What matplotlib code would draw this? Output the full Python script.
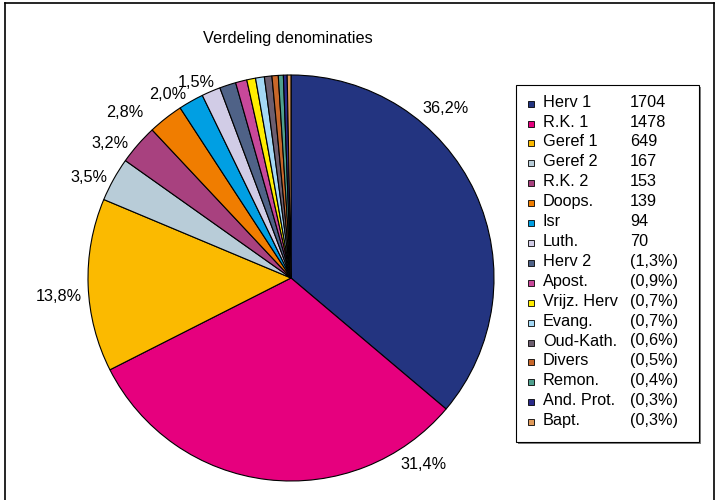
import matplotlib
matplotlib.use("Agg")
import matplotlib.pyplot as plt
from matplotlib.patches import Rectangle

plt.rcParams['font.family'] = ['Liberation Sans', 'DejaVu Sans']

title = "Verdeling denominaties"
names = ["Herv 1", "R.K. 1", "Geref 1", "Geref 2", "R.K. 2", "Doops.", "Isr", "Luth.",
         "Herv 2", "Apost.", "Vrijz. Herv", "Evang.", "Oud-Kath.", "Divers", "Remon.",
         "And. Prot.", "Bapt."]
legend_values = ["1704", "1478", "649", "167", "153", "139", "94", "70",
                 "(1,3%)", "(0,9%)", "(0,7%)", "(0,7%)", "(0,6%)", "(0,5%)", "(0,4%)",
                 "(0,3%)", "(0,3%)"]
percents = [36.2, 31.4, 13.8, 3.5, 3.2, 2.8, 2.0, 1.5, 1.3, 0.9, 0.7, 0.7, 0.6, 0.5, 0.4, 0.3, 0.3]
pie_labels = ["36,2%", "31,4%", "13,8%", "3,5%", "3,2%", "2,8%", "2,0%", "1,5%"]
colors = ["#233480", "#E6007E", "#FBBA00", "#B8CCD8", "#A8417F", "#F07D00", "#009FE3",
          "#D1CCE6", "#4F6287", "#C8489A", "#FFED00", "#A4D8F5", "#6C5E6F", "#C8672A",
          "#4FA08E", "#2A2A8A", "#E09A5A"]

W, H = 716, 500
FS = 11.7
fig = plt.figure(figsize=(W / 100, H / 100), dpi=100)

def fx(px):
    return px / W

def fy(py):
    return 1 - py / H

# outer frame
fig.add_artist(plt.Line2D([fx(4.5), fx(4.5)], [fy(3), fy(501)], color="black", lw=1.2))
fig.add_artist(plt.Line2D([fx(4.5), fx(713.5)], [fy(3), fy(3)], color="black", lw=1.2))
fig.add_artist(plt.Line2D([fx(713.5), fx(713.5)], [fy(3), fy(501)], color="black", lw=1.2))

# pie
cx, cy, r = 291, 278, 203
ax = fig.add_axes([fx(cx - r), fy(cy + r), 2 * r / W, 2 * r / H])
ax.pie(percents, colors=colors, startangle=90, counterclock=False,
       wedgeprops=dict(edgecolor="black", linewidth=0.8))
ax.set_xlim(-1, 1)
ax.set_ylim(-1, 1)
ax.axis("off")

# percent label positions (in units of pie radius)
label_pos = [(0.759, 0.842), (0.655, -0.911), (-1.143, -0.084), (-0.993, 0.502),
             (-0.892, 0.670), (-0.818, 0.823), (-0.606, 0.911), (-0.468, 0.970)]
for lab, (lx, ly) in zip(pie_labels, label_pos):
    ax.text(lx, ly, lab, ha="center", va="center_baseline", fontsize=FS, color="black")

fig.text(fx(288), fy(37), title, ha="center", va="center_baseline", fontsize=FS)

# legend box
lx0, ly0, lx1, ly1 = 516, 85, 699, 442
fig.add_artist(Rectangle((fx(lx0 + 2), fy(ly1 + 2)), fx(lx1 - lx0), (ly1 - ly0) / H,
                         facecolor="#808080", edgecolor="none"))
fig.add_artist(Rectangle((fx(lx0), fy(ly1)), fx(lx1 - lx0), (ly1 - ly0) / H,
                         facecolor="white", edgecolor="black", lw=0.8))
base0, dy = 106.7, 19.9
for i, (n, v, c) in enumerate(zip(names, legend_values, colors)):
    b = base0 + i * dy
    fig.add_artist(Rectangle((fx(528), fy(b)), fx(6), 6 / H,
                             facecolor=c, edgecolor="black", lw=0.6))
    fig.text(fx(543), fy(b), n, ha="left", va="baseline", fontsize=FS)
    fig.text(fx(630), fy(b), v, ha="left", va="baseline", fontsize=FS)

fig.savefig("out.png", dpi=100)
